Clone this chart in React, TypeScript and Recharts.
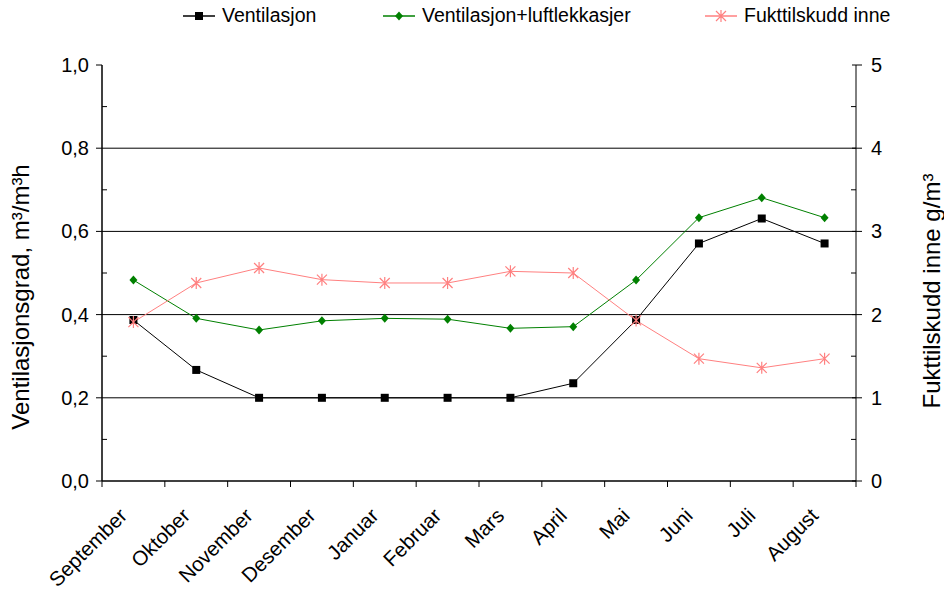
import { LineChart, Line, XAxis, YAxis, ReferenceLine, Label } from 'recharts'

const months = ['September', 'Oktober', 'November', 'Desember', 'Januar', 'Februar', 'Mars', 'April', 'Mai', 'Juni', 'Juli', 'August']
// m³/m³h, left axis
const ventilasjon = [0.387, 0.267, 0.2, 0.2, 0.2, 0.2, 0.2, 0.235, 0.387, 0.571, 0.631, 0.571]
const ventilasjonLuftlekkasjer = [0.483, 0.391, 0.363, 0.385, 0.391, 0.389, 0.367, 0.371, 0.483, 0.633, 0.681, 0.633]
// g/m³, right axis
const fukttilskudd = [1.91, 2.38, 2.56, 2.42, 2.38, 2.38, 2.52, 2.5, 1.93, 1.47, 1.36, 1.47]

const leftTicks = [0, 0.1, 0.2, 0.3, 0.4, 0.5, 0.6, 0.7, 0.8, 0.9, 1]
const rightTicks = [0, 0.5, 1, 1.5, 2, 2.5, 3, 3.5, 4, 4.5, 5]
const gridValues = [0.2, 0.4, 0.6, 0.8]
// whole numbers are category borders, halves are category centres
const xTicks = [0, 0.5, 1, 1.5, 2, 2.5, 3, 3.5, 4, 4.5, 5, 5.5, 6, 6.5, 7, 7.5, 8, 8.5, 9, 9.5, 10, 10.5, 11, 11.5, 12]

const data = months.map((month, i) => ({
  pos: i + 0.5,
  month,
  ventilasjon: ventilasjon[i],
  luft: ventilasjonLuftlekkasjer[i],
  fukt: fukttilskudd[i],
}))

const FONT = '"Liberation Sans", Arial, sans-serif'
const PINK = '#ff8080'
const GREEN = '#008000'

const XTick = ({ x, y, payload }: any) => {
  const v = payload.value
  if (Number.isInteger(v)) {
    return <line x1={x} y1={y} x2={x} y2={y + 6} stroke='#000' strokeWidth={1} />
  }
  const tx = x - 5
  const ty = y + 36
  return (
    <text x={tx} y={ty} textAnchor='end' fontSize={20.5} fontFamily={FONT} fill='#000' transform={`rotate(-45 ${tx} ${ty})`}>
      {months[Math.floor(v)]}
    </text>
  )
}

const LeftTick = ({ x, y, payload }: any) => {
  const v = payload.value
  const major = Math.round(v * 10) % 2 === 0
  if (!major) return <line x1={x} y1={y} x2={x + 5} y2={y} stroke='#000' />
  return (
    <g>
      <line x1={x - 6} y1={y} x2={x} y2={y} stroke='#000' />
      <text x={x - 13} y={y} dy='0.35em' textAnchor='end' fontSize={20} fontFamily={FONT} fill='#000'>
        {v.toFixed(1).replace('.', ',')}
      </text>
    </g>
  )
}

const RightTick = ({ x, y, payload }: any) => {
  const v = payload.value
  if (!Number.isInteger(v)) return <line x1={x - 5} y1={y} x2={x} y2={y} stroke='#000' />
  return (
    <g>
      <line x1={x - 4} y1={y} x2={x + 6} y2={y} stroke='#000' />
      <text x={x + 15} y={y} dy='0.35em' textAnchor='start' fontSize={20} fontFamily={FONT} fill='#000'>
        {v}
      </text>
    </g>
  )
}

const square = (p: any) => <rect key={`sq-${p.index}`} x={p.cx - 4} y={p.cy - 4} width={8} height={8} fill='#000' />
const diamond = (p: any) => (
  <path key={`di-${p.index}`} d={`M${p.cx},${p.cy - 4.5}L${p.cx + 4},${p.cy}L${p.cx},${p.cy + 4.5}L${p.cx - 4},${p.cy}Z`} fill={GREEN} />
)
const asterisk = (p: any) => (
  <path
    key={`as-${p.index}`}
    d={`M${p.cx - 5},${p.cy - 5}L${p.cx + 5},${p.cy + 5}M${p.cx - 5},${p.cy + 5}L${p.cx + 5},${p.cy - 5}M${p.cx},${p.cy - 6}L${p.cx},${p.cy + 6}`}
    stroke={PINK}
    strokeWidth={1.2}
    fill='none'
  />
)

const legendItems = [
  { name: 'Ventilasjon', color: '#000', left: 183, marker: 'square' },
  { name: 'Ventilasjon+luftlekkasjer', color: GREEN, left: 383, marker: 'diamond' },
  { name: 'Fukttilskudd inne', color: PINK, left: 705, marker: 'asterisk' },
]

const LegendIcon = ({ color, marker }: { color: string; marker: string }) => (
  <svg width={32} height={12} style={{ marginRight: 7 }}>
    <line x1={0} y1={6} x2={32} y2={6} stroke={color} strokeWidth={1.5} />
    {marker === 'square' && <rect x={12} y={2} width={8} height={8} fill={color} />}
    {marker === 'diamond' && <path d='M16,1.5L20,6L16,10.5L12,6Z' fill={color} />}
    {marker === 'asterisk' && <path d='M11,1L21,11M11,11L21,1M16,0L16,12' stroke={color} strokeWidth={1.2} />}
  </svg>
)

const axisTitle = (text: string, dx: number, dy: number) => ({ viewBox }: any) => {
  const cx = viewBox.x + dx
  const cy = viewBox.y + viewBox.height / 2 + dy
  return (
    <text x={cx} y={cy} dy='0.35em' textAnchor='middle' fontSize={24} fontFamily={FONT} fill='#000' transform={`rotate(-90 ${cx} ${cy})`}>
      {text}
    </text>
  )
}

export default function App() {
  return (
    <div style={{ position: 'absolute', left: 0, top: 0, width: 944, height: 592, background: '#fff', fontFamily: FONT }}>
      {legendItems.map((item) => (
        <div
          key={item.name}
          style={{ position: 'absolute', top: 4, left: item.left, display: 'flex', alignItems: 'center', fontSize: 19.5, color: '#000', whiteSpace: 'nowrap' }}
        >
          <LegendIcon color={item.color} marker={item.marker} />
          {item.name}
        </div>
      ))}
      <LineChart width={944} height={592} data={data} margin={{ top: 65, right: 0, bottom: 0, left: 0 }}>
        <XAxis
          xAxisId='x'
          dataKey='pos'
          type='number'
          domain={[0, 12]}
          ticks={xTicks}
          interval={0}
          tickSize={0}
          tickMargin={0}
          tickLine={false}
          tick={<XTick />}
          height={111}
          axisLine={{ stroke: '#000', strokeWidth: 1.5 }}
        />
        <YAxis
          yAxisId='left'
          domain={[0, 1]}
          ticks={leftTicks}
          interval={0}
          width={102}
          tickSize={0}
          tickMargin={0}
          tickLine={false}
          tick={<LeftTick />}
          axisLine={{ stroke: '#000', strokeWidth: 1.5 }}
        >
          <Label content={axisTitle('Ventilasjonsgrad, m³/m³h', 21, 24)} />
        </YAxis>
        <YAxis
          yAxisId='right'
          orientation='right'
          domain={[0, 5]}
          ticks={rightTicks}
          interval={0}
          width={88}
          tickSize={0}
          tickMargin={0}
          tickLine={false}
          tick={<RightTick />}
          axisLine={{ stroke: '#000', strokeWidth: 1 }}
        >
          <Label content={axisTitle('Fukttilskudd inne g/m³', 76, 18)} />
        </YAxis>
        {gridValues.map((v) => (
          <ReferenceLine key={v} xAxisId='x' yAxisId='left' y={v} stroke='#000' strokeWidth={1} />
        ))}
        <Line xAxisId='x' yAxisId='left' dataKey='ventilasjon' stroke='#000' strokeWidth={1} dot={square} activeDot={false} isAnimationActive={false} />
        <Line xAxisId='x' yAxisId='left' dataKey='luft' stroke={GREEN} strokeWidth={1} dot={diamond} activeDot={false} isAnimationActive={false} />
        <Line xAxisId='x' yAxisId='right' dataKey='fukt' stroke={PINK} strokeWidth={1} dot={asterisk} activeDot={false} isAnimationActive={false} />
      </LineChart>
    </div>
  )
}
